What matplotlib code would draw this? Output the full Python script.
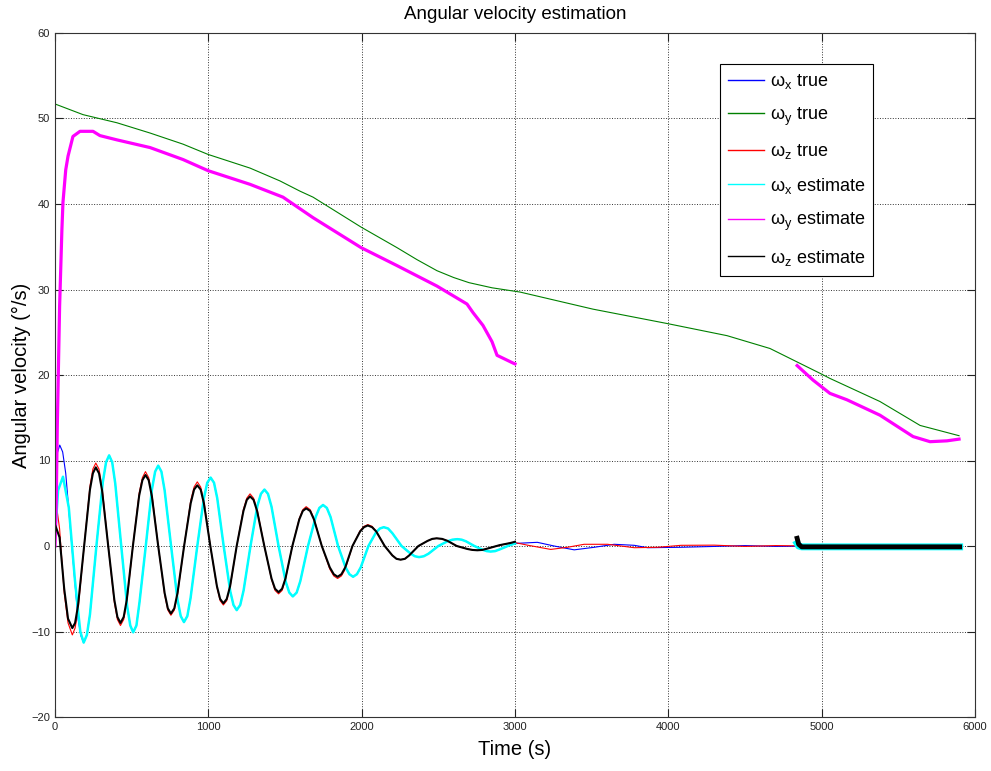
import matplotlib
matplotlib.use('Agg')
import matplotlib.pyplot as plt
import numpy as np

plt.rcParams['font.family'] = ['Liberation Sans', 'DejaVu Sans']
plt.rcParams['mathtext.fontset'] = 'custom'
plt.rcParams['mathtext.rm'] = 'Liberation Sans'

# omega_x : time stamps shared by true and estimate (up to 3000 s)
t_x = [0, 31, 50, 70, 110, 150, 169, 187, 208, 228,
       270, 312, 333, 353, 373, 393, 432, 471, 491, 510, 531, 551,
       592, 632, 653, 673, 694, 715, 757, 799, 820, 841, 863, 884,
       928, 971, 993, 1015, 1037, 1058, 1100, 1143, 1164, 1185, 1208, 1230,
       1275, 1320, 1343, 1366, 1389, 1412, 1458, 1505, 1528, 1551, 1576, 1600,
       1650, 1700, 1724, 1748, 1773, 1797, 1846, 1895, 1920, 1944, 1969, 1994,
       2044, 2094, 2119, 2144, 2172, 2200, 2260, 2320, 2347, 2374, 2405, 2436,
       2500, 2560, 2592, 2624, 2652, 2680, 2735, 2790, 2816, 2841, 2870, 2900,
       2960, 3000]
wx_true = [10.0, 11.8, 11.0, 8.5, 0.0, -8.5, -10.5, -11.3, -10.4, -8.0,
           0.0, 7.5, 9.8, 10.6, 9.8, 7.3, 0.0, -7.1, -9.3, -10.1, -9.3, -6.6,
           0.0, 6.6, 8.7, 9.4, 8.7, 6.5, 0.0, -6.3, -8.2, -8.9, -8.2, -6.1,
           0.0, 5.6, 7.4, 8.0, 7.4, 5.6, 0.0, -5.3, -6.9, -7.5, -6.9, -5.2,
           0.0, 4.7, 6.1, 6.6, 6.1, 4.6, 0.0, -4.2, -5.45, -5.9, -5.45, -4.1,
           0.0, 3.4, 4.45, 4.8, 4.45, 3.4, 0.0, -2.5, -3.3, -3.6, -3.3, -2.5,
           0.0, 1.6, 2.05, 2.2, 2.05, 1.5, 0.0, -0.9, -1.2, -1.3, -1.2, -0.9,
           0.0, 0.55, 0.74, 0.8, 0.74, 0.55, 0.0, -0.45, -0.6, -0.65, -0.6, -0.4,
           0.05, 0.3]
# omega_x true after 3000 s
t_x_tail = [3146, 3255, 3386, 3517, 3647, 3778, 3865, 4083, 4300, 4500, 4700,
            5000, 5900]
wx_true_tail = [0.43, 0.0, -0.45, -0.15, 0.2, 0.08, -0.2, -0.15, -0.05, 0.05,
                -0.05, 0.0, 0.0]
# omega_x estimate start (differs from true before first trough)
t_xe_start = [0, 20, 52, 90, 130, 150, 165]
wx_est_start = [1.0, 6.5, 8.1, 4.5, -4.0, -7.5, -10.0]

# omega_z : time stamps shared by true and estimate (up to 3000 s)
t_z = [0, 30, 60, 85, 113, 131, 150,
       190, 228, 247, 266, 287, 307, 347, 387, 407, 427, 448, 468,
       508, 549, 570, 590, 611, 632, 673, 715, 736, 756, 778, 799,
       842, 885, 907, 928, 950, 971, 1013, 1056, 1077, 1098, 1120, 1142,
       1185, 1229, 1251, 1272, 1295, 1318, 1365, 1412, 1435, 1458, 1481, 1503,
       1548, 1593, 1616, 1638, 1664, 1689, 1740, 1792, 1818, 1843, 1868, 1893,
       1940, 1990, 2015, 2040, 2068, 2095, 2150, 2200, 2227, 2254, 2282, 2310,
       2370, 2430, 2460, 2489, 2525, 2560, 2620, 2690, 2722, 2754, 2787, 2820,
       2900, 2970, 3000]
wz_true = [6.0, 2.0, -5.5, -9.0, -10.4, -9.6, -7.5,
           0.0, 7.0, 9.0, 9.7, 9.0, 6.9, 0.0, -6.6, -8.6, -9.3, -8.6, -6.6,
           0.0, 6.2, 8.0, 8.7, 8.0, 6.1, 0.0, -5.7, -7.5, -8.1, -7.5, -5.7,
           0.0, 5.3, 6.9, 7.5, 6.9, 5.3, 0.0, -4.8, -6.4, -6.9, -6.4, -4.8,
           0.0, 4.3, 5.6, 6.1, 5.6, 4.3, 0.0, -3.9, -5.2, -5.6, -5.2, -3.9,
           0.0, 3.2, 4.25, 4.6, 4.25, 3.2, 0.0, -2.7, -3.5, -3.8, -3.5, -2.7,
           0.0, 1.8, 2.3, 2.5, 2.3, 1.7, 0.0, -1.1, -1.5, -1.6, -1.5, -1.1,
           0.0, 0.6, 0.83, 0.9, 0.83, 0.6, 0.0, -0.35, -0.46, -0.5, -0.46, -0.3,
           0.1, 0.35, 0.4]
wz_est = [2.5, 1.0, -5.0, -8.5, -9.6, -9.0, -7.0,
          0.0, 6.6, 8.5, 9.2, 8.5, 6.5, 0.0, -6.3, -8.3, -9.0, -8.3, -6.3,
          0.0, 5.9, 7.7, 8.3, 7.7, 5.8, 0.0, -5.5, -7.3, -7.9, -7.3, -5.5,
          0.0, 5.0, 6.6, 7.1, 6.6, 5.0, 0.0, -4.7, -6.2, -6.7, -6.2, -4.7,
          0.0, 4.1, 5.4, 5.8, 5.4, 4.1, 0.0, -3.8, -5.0, -5.4, -5.0, -3.8,
          0.0, 3.1, 4.1, 4.4, 4.1, 3.1, 0.0, -2.5, -3.3, -3.6, -3.3, -2.5,
          0.0, 1.7, 2.2, 2.4, 2.2, 1.7, 0.0, -1.1, -1.5, -1.6, -1.5, -1.1,
          0.0, 0.6, 0.83, 0.9, 0.83, 0.6, 0.0, -0.35, -0.46, -0.5, -0.46, -0.3,
          0.1, 0.35, 0.5]
t_z_tail = [3081, 3233, 3342, 3451, 3604, 3778, 3931, 4083, 4300, 4500, 4700,
            4900, 5900]
wz_true_tail = [0.1, -0.4, -0.15, 0.2, 0.2, -0.2, -0.15, 0.08, 0.1, -0.05,
                0.05, 0.0, 0.0]

# omega_y true
t_y = [0, 183, 404, 620, 835, 998, 1272, 1467, 1598, 1683, 1996, 2230, 2360,
       2491, 2600, 2700, 2850, 3033, 3509, 3998, 4383, 4663, 4989, 5054, 5380,
       5642, 5896]
wy_true = [51.7, 50.45, 49.5, 48.3, 47.0, 45.8, 44.2, 42.7, 41.5, 40.8, 37.3,
           34.9, 33.5, 32.2, 31.4, 30.8, 30.2, 29.7, 27.7, 26.0, 24.6, 23.1,
           20.2, 19.6, 16.9, 14.1, 12.9]

# omega_y estimate, first window
t_ye1 = [0, 8, 15, 30, 45, 52, 70, 85, 117, 163, 248, 293, 404, 620, 835, 998,
         1272, 1487, 1683, 1996, 2230, 2491, 2687, 2726, 2791, 2850, 2883,
         2987, 3000]
wy_est1 = [0.0, 5.0, 14.0, 28.0, 37.0, 40.2, 44.0, 45.6, 47.9, 48.5, 48.5,
           48.0, 47.5, 46.6, 45.2, 43.9, 42.3, 40.8, 38.4, 34.9, 32.8, 30.4,
           28.3, 27.3, 25.8, 23.9, 22.3, 21.4, 21.3]
# omega_y estimate, second window
t_ye2 = [4840, 4944, 5054, 5165, 5380, 5596, 5707, 5817, 5896]
wy_est2 = [21.1, 19.4, 17.85, 17.1, 15.3, 12.8, 12.2, 12.3, 12.5]

# x / z estimates in the second window (noisy band around zero)
t_e2 = [4840, 4850, 4870, 5900]
wx_est2 = [0.3, 0.0, -0.1, -0.1]
wz_est2 = [0.9, 0.2, -0.1, -0.1]

# assemble series
gap = [np.nan]
tx_full = t_x + t_x_tail
wx_full = wx_true + wx_true_tail
tz_full = t_z + t_z_tail
wz_full = wz_true + wz_true_tail
txe = t_xe_start + t_x[7:]
wxe = wx_est_start + wx_true[7:]
tye = t_ye1 + gap + t_ye2
wye = wy_est1 + gap + wy_est2

fig = plt.figure(figsize=(9.91, 7.71), dpi=100)
ax = fig.add_axes([55/991, 1-717/771, 920/991, 684/771])

ax.plot(tx_full, wx_full, color='#0000ff', lw=0.8, label='\u03c9$_\\mathrm{x}$ true')
ax.plot(t_y, wy_true, color='#008000', lw=0.8, label='\u03c9$_\\mathrm{y}$ true')
ax.plot(tz_full, wz_full, color='#ff0000', lw=0.8, label='\u03c9$_\\mathrm{z}$ true')
ax.plot(txe, wxe, color='#00ffff', lw=1.8, label='\u03c9$_\\mathrm{x}$ estimate')
ax.plot(tye, wye, color='#ff00ff', lw=2.3, label='\u03c9$_\\mathrm{y}$ estimate')
ax.plot(t_z, wz_est, color='black', lw=1.5, label='\u03c9$_\\mathrm{z}$ estimate')
# second estimation window
ax.plot(t_e2, wx_est2, color='#00ffff', lw=5.0)
ax.plot(t_e2, wz_est2, color='black', lw=3.5)

# ranges and ticks
ax.set_xlim(0, 6000)
ax.set_ylim(-20, 60)
ax.set_xticks(np.arange(0, 6001, 1000))
ax.set_yticks(np.arange(-20, 61, 10))
ax.tick_params(direction='in', top=True, right=True, length=6, width=0.8,
               labelsize=8, colors='#222222')
ax.grid(True, linestyle=':', color='#333333', linewidth=0.7)
for s in ax.spines.values():
    s.set_color('#333333')
    s.set_linewidth(0.8)

# labels
ax.set_title('Angular velocity estimation', fontsize=13.5, pad=10)
ax.set_xlabel('Time (s)', fontsize=14.5, labelpad=6)
ax.set_ylabel('Angular velocity (\u00b0/s)', fontsize=14.5, labelpad=0)

leg = ax.legend(loc='upper left', bbox_to_anchor=(720/991, 1-64/771),
                bbox_transform=fig.transFigure, fontsize=13, fancybox=False,
                framealpha=1, edgecolor='black', handlelength=2.0,
                handletextpad=0.3, labelspacing=0.8, borderaxespad=0,
                borderpad=0.45)
leg.get_frame().set_linewidth(0.8)
for line in leg.get_lines():
    line.set_linewidth(1.0)

plt.savefig('out.png', dpi=100)
plt.close()
